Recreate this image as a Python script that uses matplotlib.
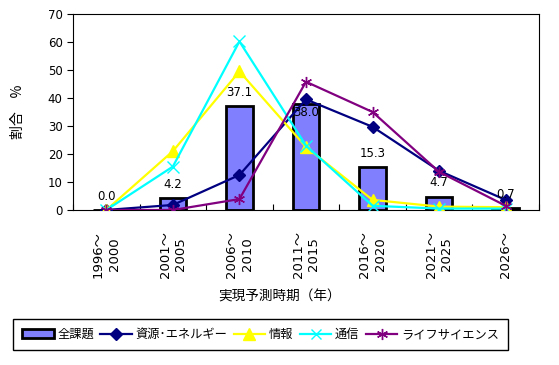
import numpy as np
import matplotlib
matplotlib.use('Agg')
import matplotlib.pyplot as plt
from matplotlib.patches import Patch
from matplotlib.lines import Line2D

plt.rcParams['font.family'] = ['Noto Sans CJK JP', 'DejaVu Sans']
plt.rcParams['font.size'] = 9.5
num_font = ['DejaVu Sans', 'Noto Sans CJK JP']

periods = ['1996～\n2000', '2001～\n2005', '2006～\n2010', '2011～\n2015',
           '2016～\n2020', '2021～\n2025', '2026～']
all_topics = [0.0, 4.2, 37.1, 38.0, 15.3, 4.7, 0.7]
resources = [0.0, 1.8, 12.5, 39.5, 29.7, 14.0, 3.6]
info = [0.0, 21.0, 49.5, 22.5, 3.6, 1.2, 1.0]
telecom = [0.0, 15.5, 60.2, 23.0, 1.5, 0.5, 0.5]
life = [0.0, 0.0, 3.9, 45.8, 35.0, 13.6, 1.5]

fig = plt.figure(figsize=(5.59, 3.65), dpi=100)
ax = fig.add_axes([0.1306, 0.4247, 0.8336, 0.5369])

x = np.arange(len(periods))
ax.bar(x, all_topics, width=0.4, color='#8080FF', edgecolor='black', linewidth=2, zorder=1)

# data labels (38.0 sits inside the bar top in the original)
offsets = [10, 10, 10, -6.5, 10, 10, 10]
for xi, v, off in zip(x, all_topics, offsets):
    ax.annotate('%.1f' % v, (xi, v), xytext=(0, off), textcoords='offset points',
                ha='center', va='center', fontsize=8.5, family=num_font, zorder=5)

ax.plot(x, resources, color='#000080', lw=1.6, marker='D', ms=6, zorder=3)
ax.plot(x, info, color='#FFFF00', lw=1.6, marker='^', ms=8, zorder=3)
ax.plot(x, telecom, color='#00FFFF', lw=1.6, marker='x', ms=8, mew=1, zorder=3)
ax.plot(x, life, color='#800080', lw=1.6, marker=(6, 2, 0), ms=8, mew=1, zorder=4)

ax.set_xlim(-0.5, 6.5)
ax.set_ylim(0, 70)
ax.set_yticks(range(0, 71, 10))
ax.set_xticks(np.arange(-0.5, 7, 1))
ax.set_xticklabels([])
ax.tick_params(axis='x', direction='in', length=4)
ax.tick_params(axis='y', direction='out', length=4, labelsize=8.5)
for t in ax.get_yticklabels():
    t.set_family(num_font)
for xi, lab in zip(x, periods):
    ax.text(xi, -7.5, lab, rotation=90, ha='center', va='top', fontsize=9.5,
            family=num_font, linespacing=1.25, transform=ax.transData, clip_on=False)

ax.set_ylabel('割合　%', fontsize=10, labelpad=16)
fig.text(0.5, 0.187, '実現予測時期（年）', ha='center', va='center', fontsize=9.8)

handles = [Patch(facecolor='#8080FF', edgecolor='black', linewidth=2),
           Line2D([], [], color='#000080', lw=1.6, marker='D', ms=6),
           Line2D([], [], color='#FFFF00', lw=1.6, marker='^', ms=8),
           Line2D([], [], color='#00FFFF', lw=1.6, marker='x', ms=7, mew=1),
           Line2D([], [], color='#800080', lw=1.6, marker=(6, 2, 0), ms=8, mew=1)]
labels = ['全課題', '資源･エネルギー', '情報', '通信', 'ライフサイエンス']
leg = fig.legend(handles, labels, loc='center', bbox_to_anchor=(0.466, 0.084),
                 ncol=5, frameon=True, fancybox=False, framealpha=1, edgecolor='black',
                 handlelength=2.6, handletextpad=0.3, columnspacing=0.5, fontsize=8.8,
                 borderpad=0.75, borderaxespad=0)
leg.get_frame().set_linewidth(1)

fig.savefig('out.png', dpi=100)
